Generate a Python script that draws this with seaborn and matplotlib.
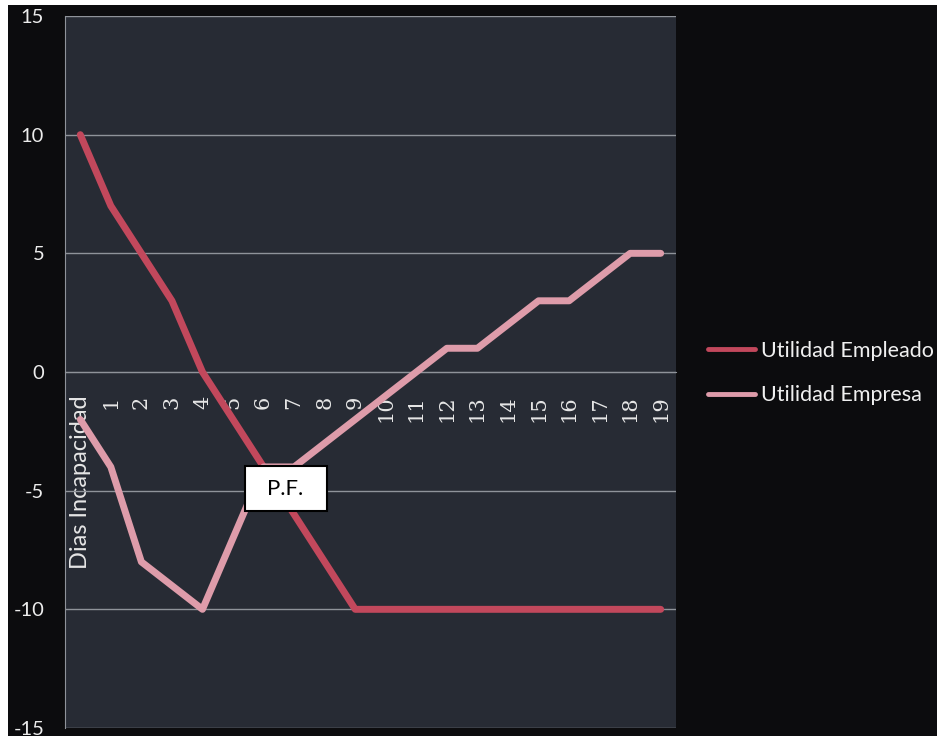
import numpy as np
import pandas as pd
import matplotlib
matplotlib.use("Agg")
import matplotlib.pyplot as plt
import seaborn as sns
from matplotlib.patches import Rectangle

# ---- data ----
categories = ["Dias Incapacidad"] + [str(i) for i in range(1, 20)]
empleado = [10, 7, 5, 3, 0, -2, -4, -6, -8, -10, -10, -10, -10, -10, -10, -10, -10, -10, -10, -10]
empresa = [-2, -4, -8, -9, -10, -7, -4, -4, -3, -2, -1, 0, 1, 1, 2, 3, 3, 4, 5, 5]
series_names = ["Utilidad Empleado", "Utilidad Empresa"]
series_colors = ["#c2485c", "#de9caa"]
y_ticks = [-15, -10, -5, 0, 5, 10, 15]
annotation_text = "P.F."

df = pd.DataFrame({
    "pos": list(range(len(categories))) * 2,
    "valor": empleado + empresa,
    "serie": [series_names[0]] * len(empleado) + [series_names[1]] * len(empresa),
})

sns.set_style("white")
plt.rcParams["axes.unicode_minus"] = False
plt.rcParams["font.family"] = ["Lato", "DejaVu Sans"]

W, H = 939, 736
fig = plt.figure(figsize=(W / 100, H / 100), dpi=100, facecolor="white")
fig.patches.append(Rectangle((8 / W, 0), 929 / W, 731 / H, transform=fig.transFigure,
                             facecolor="#0c0c0e", edgecolor="none", zorder=-10))

ax = fig.add_axes([65 / W, 8 / H, 611 / W, 712 / H])
ax.set_facecolor("#272b34")

sns.lineplot(data=df, x="pos", y="valor", hue="serie", palette=series_colors,
             linewidth=5, ax=ax, sort=False, zorder=3,
             solid_joinstyle="round", solid_capstyle="round")

handles, labels = ax.get_legend_handles_labels()
if ax.get_legend() is not None:
    ax.get_legend().remove()

ax.set_xlim(-0.5, len(categories) - 0.5)
ax.set_ylim(-15, 15)
ax.set_yticks(y_ticks)
ax.set_yticklabels([str(v) for v in y_ticks])
ax.yaxis.grid(True, color="#8f939a", linewidth=1)
ax.xaxis.grid(False)
ax.set_axisbelow(True)

for s in ["top", "right"]:
    ax.spines[s].set_visible(False)
ax.spines["left"].set_color("#8f939a")
ax.spines["bottom"].set_position(("data", 0))
ax.spines["bottom"].set_color("#8f939a")

ax.set_xticks(range(len(categories)))
ax.set_xticklabels(categories, rotation=90, va="top", ha="center")
ax.set_xticks(np.arange(-0.5, len(categories), 1), minor=True)
ax.tick_params(axis="x", which="major", length=0, pad=17, colors="#e6e6e6")
ax.tick_params(axis="x", which="minor", length=5, width=1, color="#8f939a", direction="out")
ax.tick_params(axis="y", length=0, pad=15, labelcolor="#ececec", labelsize=14.5)
for lab in ax.get_xticklabels():
    if lab.get_text().isdigit():
        lab.set_fontfamily("DejaVu Serif")
        lab.set_fontsize(15)
    else:
        lab.set_fontfamily("Lato")
        lab.set_fontsize(17)
ax.set_xlabel("")
ax.set_ylabel("")

# P.F. label box
ax.add_patch(Rectangle((5.38, -5.87), 2.69, 1.9, facecolor="white", edgecolor="black",
                       linewidth=1.5, zorder=5))
ax.text(6.72, -4.92, annotation_text, ha="center", va="center", fontsize=16,
        color="black", zorder=6)

leg = fig.legend(handles, labels, loc="center left",
                 bbox_to_anchor=(708 / W, (H - 373) / H), frameon=False,
                 prop={"family": "Lato", "size": 15.5}, labelcolor="#f0f0f0",
                 handlelength=2.2, handletextpad=0.25, labelspacing=1.15,
                 borderpad=0, borderaxespad=0)
for lh in leg.get_lines():
    lh.set_linewidth(3.5)

fig.savefig("out.png", dpi=100, facecolor="white")
